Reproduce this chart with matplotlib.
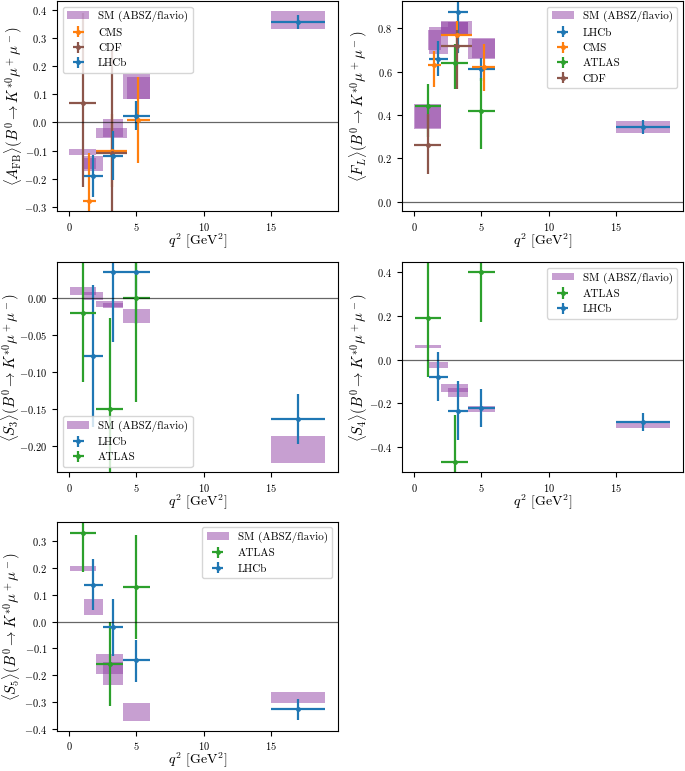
import numpy as np
import matplotlib
matplotlib.use("Agg")
import matplotlib.pyplot as plt
from matplotlib.patches import Rectangle

plt.rcParams['font.family']  = 'serif'
plt.rcParams['font.serif']   = ['cmr10', 'DejaVu Serif']
plt.rcParams['mathtext.fontset'] = 'cm'
plt.rcParams['axes.formatter.use_mathtext'] = True
plt.rcParams['xtick.labelsize'] = 7.5
plt.rcParams['ytick.labelsize'] = 7.5

# colours
#______________________________________________________________________________
col_sm  = '#9141a5'
colors  = { 'LHCb' : 'C0', 'CMS' : 'C1', 'ATLAS' : 'C2', 'CDF' : 'C5' }

decay   = r'(B^0\to K^{*0}\mu^+\mu^-)'

# A_FB
#______________________________________________________________________________
afb_sm_lo   = [ 0.0,   1.0,   1.1,   2.0,   2.5,   4.0,   4.3,   15.0 ]
afb_sm_hi   = [ 2.0,   2.0,   2.5,   4.3,   4.0,   6.0,   6.0,   19.0 ]
afb_sm_min  = [ -0.115, -0.165, -0.172, -0.057, -0.05, 0.082, 0.085, 0.334 ]
afb_sm_max  = [ -0.095, -0.128, -0.12, -0.02,  0.012, 0.174, 0.16,  0.396 ]

afb_cms_lo  = [ 1.0, 2.0, 4.3 ]
afb_cms_hi  = [ 2.0, 4.3, 6.0 ]
afb_cms_y   = [ -0.28, -0.10, 0.01 ]
afb_cms_up  = [ 0.17, 0.13, 0.15 ]
afb_cms_dn  = [ 0.10, 0.13, 0.155 ]

afb_cdf_lo  = [ 0.0, 2.0 ]
afb_cdf_hi  = [ 2.0, 4.3 ]
afb_cdf_y   = [ 0.07, -0.11 ]
afb_cdf_up  = [ 0.32, 0.37 ]
afb_cdf_dn  = [ 0.30, 0.30 ]

afb_lhcb_lo = [ 1.1, 2.5, 4.0, 15.0 ]
afb_lhcb_hi = [ 2.5, 4.0, 6.0, 19.0 ]
afb_lhcb_y  = [ -0.19, -0.118, 0.024, 0.356 ]
afb_lhcb_up = [ 0.073, 0.086, 0.052, 0.027 ]
afb_lhcb_dn = [ 0.076, 0.086, 0.05, 0.025 ]

# F_L
#______________________________________________________________________________
fl_sm_lo    = [ 0.0,   0.04,  1.0,   1.1,   2.0,   2.0,   2.5,   4.0,   4.3,   15.0 ]
fl_sm_hi    = [ 2.0,   2.0,   2.0,   2.5,   4.3,   4.0,   4.0,   6.0,   6.0,   19.0 ]
fl_sm_min   = [ 0.336, 0.34,  0.70,  0.68,  0.772, 0.775, 0.772, 0.66,  0.665, 0.316 ]
fl_sm_max   = [ 0.45,  0.445, 0.79,  0.806, 0.834, 0.83,  0.83,  0.757, 0.75,  0.371 ]

fl_lhcb_lo  = [ 1.1, 2.5, 4.0, 15.0 ]
fl_lhcb_hi  = [ 2.5, 4.0, 6.0, 19.0 ]
fl_lhcb_y   = [ 0.66, 0.875, 0.61, 0.345 ]
fl_lhcb_up  = [ 0.08, 0.10, 0.055, 0.032 ]
fl_lhcb_dn  = [ 0.08, 0.19, 0.053, 0.031 ]

fl_cms_lo   = [ 1.0, 2.0, 4.3 ]
fl_cms_hi   = [ 2.0, 4.3, 6.0 ]
fl_cms_y    = [ 0.63, 0.77, 0.62 ]
fl_cms_up   = [ 0.067, 0.065, 0.106 ]
fl_cms_dn   = [ 0.10, 0.09, 0.11 ]

fl_atlas_lo = [ 0.04, 2.0, 4.0 ]
fl_atlas_hi = [ 2.0, 4.0, 6.0 ]
fl_atlas_y  = [ 0.44, 0.64, 0.42 ]
fl_atlas_up = [ 0.105, 0.086, 0.153 ]
fl_atlas_dn = [ 0.14, 0.12, 0.176 ]

fl_cdf_lo   = [ 0.0, 2.0 ]
fl_cdf_hi   = [ 2.0, 4.3 ]
fl_cdf_y    = [ 0.26, 0.72 ]
fl_cdf_up   = [ 0.145, 0.07 ]
fl_cdf_dn   = [ 0.13, 0.20 ]

# S_3
#______________________________________________________________________________
s3_sm_lo    = [ 0.04,  1.1,    2.0,    2.5,    4.0,    15.0 ]
s3_sm_hi    = [ 2.0,   2.5,    4.0,    4.0,    6.0,    19.0 ]
s3_sm_min   = [ 0.004, -0.003, -0.012, -0.014, -0.034, -0.223 ]
s3_sm_max   = [ 0.015, 0.008,  -0.004, -0.007, -0.015, -0.187 ]

s3_lhcb_lo  = [ 1.1, 2.5, 4.0, 15.0 ]
s3_lhcb_hi  = [ 2.5, 4.0, 6.0, 19.0 ]
s3_lhcb_y   = [ -0.078, 0.035, 0.035, -0.163 ]
s3_lhcb_up  = [ 0.096, 0.094, 0.07, 0.033 ]
s3_lhcb_dn  = [ 0.096, 0.094, 0.07, 0.035 ]

s3_atlas_lo = [ 0.04, 2.0, 4.0 ]
s3_atlas_hi = [ 2.0, 4.0, 6.0 ]
s3_atlas_y  = [ -0.02, -0.15, 0.0 ]
s3_atlas_up = [ 0.093, 0.123, 0.14 ]
s3_atlas_dn = [ 0.093, 0.123, 0.14 ]

# S_4
#______________________________________________________________________________
s4_sm_lo    = [ 0.04,  1.1,    2.0,    2.5,    4.0,    15.0 ]
s4_sm_hi    = [ 2.0,   2.5,    4.0,    4.0,    6.0,    19.0 ]
s4_sm_min   = [ 0.052, -0.04,  -0.15,  -0.172, -0.238, -0.311 ]
s4_sm_max   = [ 0.067, -0.009, -0.113, -0.131, -0.21,  -0.292 ]

s4_atlas_lo = [ 0.04, 2.0, 4.0 ]
s4_atlas_hi = [ 2.0, 4.0, 6.0 ]
s4_atlas_y  = [ 0.19, -0.47, 0.40 ]
s4_atlas_up = [ 0.27, 0.215, 0.226 ]
s4_atlas_dn = [ 0.27, 0.215, 0.226 ]

s4_lhcb_lo  = [ 1.1, 2.5, 4.0, 15.0 ]
s4_lhcb_hi  = [ 2.5, 4.0, 6.0, 19.0 ]
s4_lhcb_y   = [ -0.079, -0.234, -0.22, -0.285 ]
s4_lhcb_up  = [ 0.113, 0.134, 0.086, 0.039 ]
s4_lhcb_dn  = [ 0.111, 0.136, 0.087, 0.04 ]

# S_5
#______________________________________________________________________________
s5_sm_lo    = [ 0.04,  1.1,   2.0,    2.5,    4.0,    15.0 ]
s5_sm_hi    = [ 2.0,   2.5,   4.0,    4.0,    6.0,    19.0 ]
s5_sm_min   = [ 0.188, 0.025, -0.194, -0.235, -0.373, -0.305 ]
s5_sm_max   = [ 0.207, 0.086, -0.12,  -0.15,  -0.305, -0.263 ]

s5_atlas_lo = [ 0.04, 2.0, 4.0 ]
s5_atlas_hi = [ 2.0, 4.0, 6.0 ]
s5_atlas_y  = [ 0.33, -0.16, 0.13 ]
s5_atlas_up = [ 0.145, 0.16, 0.193 ]
s5_atlas_dn = [ 0.145, 0.157, 0.195 ]

s5_lhcb_lo  = [ 1.1, 2.5, 4.0, 15.0 ]
s5_lhcb_hi  = [ 2.5, 4.0, 6.0, 19.0 ]
s5_lhcb_y   = [ 0.138, -0.02, -0.145, -0.325 ]
s5_lhcb_up  = [ 0.098, 0.106, 0.078, 0.035 ]
s5_lhcb_dn  = [ 0.096, 0.107, 0.081, 0.042 ]


def smBoxes( ax, lo, hi, ymin, ymax ):
    for i in range( len( lo ) ):
        ax.add_patch( Rectangle( ( lo[i], ymin[i] ), hi[i] - lo[i], ymax[i] - ymin[i],
                                 facecolor = col_sm, alpha = 0.5, lw = 0,
                                 label = 'SM (ABSZ/flavio)' if i == 0 else None ) )


def measurement( ax, name, lo, hi, y, up, dn ):
    lo = np.array( lo ); hi = np.array( hi )
    x  = 0.5 * ( lo + hi )
    ax.errorbar( x, y, xerr = 0.5 * ( hi - lo ), yerr = [ dn, up ],
                 fmt = 'o', ms = 2.5, lw = 1.6, color = colors[name], label = name )


def finish( ax, ylabel, ylim, legloc, ylabx ):
    ax.axhline( 0, color = 'k', lw = 0.9, alpha = 0.6 )
    ax.set_xlim( -0.9, 19.95 )
    ax.set_ylim( ylim )
    ax.set_xticks( [ 0, 5, 10, 15 ] )
    ax.set_xlabel( r'$q^2$ [GeV$^2$]', fontsize = 10, labelpad = -1 )
    ax.set_ylabel( ylabel, fontsize = 10.5 )
    ax.yaxis.set_label_coords( ylabx, 0.5 )
    ax.legend( loc = legloc, fontsize = 8 )


fig = plt.figure( figsize = ( 6.85, 7.71 ), dpi = 100 )

ax1 = fig.add_axes( [ 0.0832, 0.7263, 0.410, 0.2724 ] )
ax2 = fig.add_axes( [ 0.5869, 0.7263, 0.410, 0.2724 ] )
ax3 = fig.add_axes( [ 0.0832, 0.3874, 0.410, 0.2724 ] )
ax4 = fig.add_axes( [ 0.5869, 0.3874, 0.410, 0.2724 ] )
ax5 = fig.add_axes( [ 0.0832, 0.0525, 0.410, 0.2710 ] )

# A_FB
smBoxes( ax1, afb_sm_lo, afb_sm_hi, afb_sm_min, afb_sm_max )
measurement( ax1, 'CMS',  afb_cms_lo,  afb_cms_hi,  afb_cms_y,  afb_cms_up,  afb_cms_dn )
measurement( ax1, 'CDF',  afb_cdf_lo,  afb_cdf_hi,  afb_cdf_y,  afb_cdf_up,  afb_cdf_dn )
measurement( ax1, 'LHCb', afb_lhcb_lo, afb_lhcb_hi, afb_lhcb_y, afb_lhcb_up, afb_lhcb_dn )
finish( ax1, r'$\langle A_{\rm FB}\rangle' + decay + '$', ( -0.315, 0.432 ), 'upper left', -0.114 )

# F_L
smBoxes( ax2, fl_sm_lo, fl_sm_hi, fl_sm_min, fl_sm_max )
measurement( ax2, 'LHCb',  fl_lhcb_lo,  fl_lhcb_hi,  fl_lhcb_y,  fl_lhcb_up,  fl_lhcb_dn )
measurement( ax2, 'CMS',   fl_cms_lo,   fl_cms_hi,   fl_cms_y,   fl_cms_up,   fl_cms_dn )
measurement( ax2, 'ATLAS', fl_atlas_lo, fl_atlas_hi, fl_atlas_y, fl_atlas_up, fl_atlas_dn )
measurement( ax2, 'CDF',   fl_cdf_lo,   fl_cdf_hi,   fl_cdf_y,   fl_cdf_up,   fl_cdf_dn )
finish( ax2, r'$\langle F_L\rangle' + decay + '$', ( -0.043, 0.926 ), 'upper right', -0.113 )

# S_3
smBoxes( ax3, s3_sm_lo, s3_sm_hi, s3_sm_min, s3_sm_max )
measurement( ax3, 'LHCb',  s3_lhcb_lo,  s3_lhcb_hi,  s3_lhcb_y,  s3_lhcb_up,  s3_lhcb_dn )
measurement( ax3, 'ATLAS', s3_atlas_lo, s3_atlas_hi, s3_atlas_y, s3_atlas_up, s3_atlas_dn )
finish( ax3, r'$\langle S_3\rangle' + decay + '$', ( -0.2356, 0.048 ), 'lower left', -0.125 )

# S_4
smBoxes( ax4, s4_sm_lo, s4_sm_hi, s4_sm_min, s4_sm_max )
measurement( ax4, 'ATLAS', s4_atlas_lo, s4_atlas_hi, s4_atlas_y, s4_atlas_up, s4_atlas_dn )
measurement( ax4, 'LHCb',  s4_lhcb_lo,  s4_lhcb_hi,  s4_lhcb_y,  s4_lhcb_up,  s4_lhcb_dn )
finish( ax4, r'$\langle S_4\rangle' + decay + '$', ( -0.516, 0.446 ), 'upper right', -0.113 )

# S_5
smBoxes( ax5, s5_sm_lo, s5_sm_hi, s5_sm_min, s5_sm_max )
measurement( ax5, 'ATLAS', s5_atlas_lo, s5_atlas_hi, s5_atlas_y, s5_atlas_up, s5_atlas_dn )
measurement( ax5, 'LHCb',  s5_lhcb_lo,  s5_lhcb_hi,  s5_lhcb_y,  s5_lhcb_up,  s5_lhcb_dn )
finish( ax5, r'$\langle S_5\rangle' + decay + '$', ( -0.407, 0.374 ), 'upper right', -0.121 )

fig.savefig( 'out.png', dpi = 100 )
